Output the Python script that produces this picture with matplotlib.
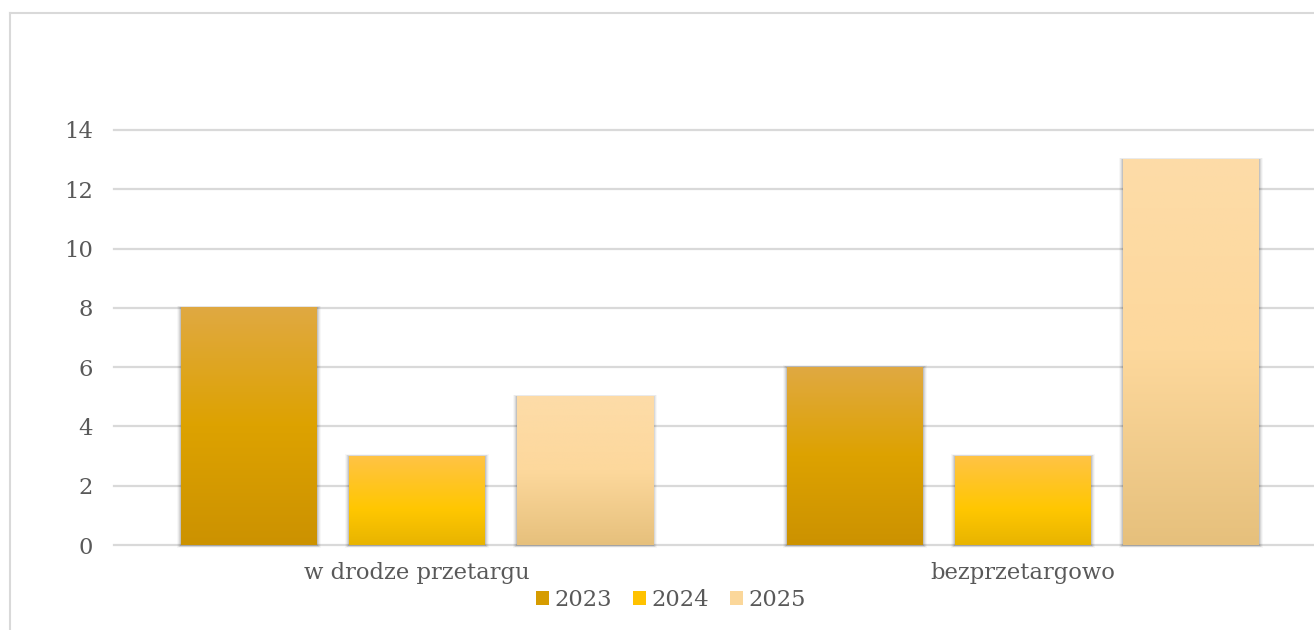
import numpy as np
import matplotlib
matplotlib.use("Agg")
import matplotlib.pyplot as plt
from matplotlib.patches import Patch, Rectangle
from matplotlib.colors import LinearSegmentedColormap
from matplotlib.lines import Line2D

categories = ["w drodze przetargu", "bezprzetargowo"]
series_names = ["2023", "2024", "2025"]
values_2023 = [8, 6]
values_2024 = [3, 3]
values_2025 = [5, 13]
series_values = [values_2023, values_2024, values_2025]
yticks = [0, 2, 4, 6, 8, 10, 12, 14]

# gradient stops (bottom, middle, top) per series
grad_colors = [
    [(0.0, "#CC9200"), (0.5, "#DDA200"), (1.0, "#E0A942")],
    [(0.0, "#E8B400"), (0.4, "#FFC700"), (1.0, "#FFC345")],
    [(0.0, "#E6C07C"), (0.5, "#FDD89C"), (1.0, "#FDDCA8")],
]
legend_colors = ["#D69C00", "#FFC200", "#FBD79A"]
text_color = "#595959"
grid_color = "#D9D9D9"

plt.rcParams["font.family"] = ["DejaVu Serif"]

fig = plt.figure(figsize=(13.14, 6.30), dpi=100)
W, H = 1314, 630
ax = fig.add_axes([114 / W, 85 / H, (1326 - 114) / W, (545 - 130) / H])

n = len(series_names)
bar_w = 136 / 606
step = 168 / 606
x = np.arange(len(categories))
px_x = 2.0 / 1212      # one pixel in x data units
px_y = 14.0 / 415      # one pixel in y data units

grad = np.linspace(0, 1, 256).reshape(-1, 1)
for i, (name, vals) in enumerate(zip(series_names, series_values)):
    offs = x + (i - (n - 1) / 2) * step
    bars = ax.bar(offs, vals, width=bar_w, color="none", edgecolor="none", zorder=3)
    cmap = LinearSegmentedColormap.from_list(f"g{i}", grad_colors[i])
    for b in bars:
        bx, by, bw, bh = b.get_x(), b.get_y(), b.get_width(), b.get_height()
        # soft shadow
        for k, a in enumerate([0.10, 0.07, 0.05, 0.03]):
            d = k + 1
            sh = Rectangle((bx - d * px_x, by - (d + 1) * px_y * 0.6),
                           bw + 2 * d * px_x, bh + d * px_y * 0.5 + (d + 1) * px_y * 0.6,
                           facecolor="black", edgecolor="none", alpha=a, zorder=2,
                           clip_on=False)
            ax.add_patch(sh)
        ax.imshow(grad, cmap=cmap, origin="lower", aspect="auto",
                  extent=[bx, bx + bw, by, by + bh], zorder=3.5,
                  interpolation="bilinear")

ax.set_xlim(-0.5, 1.5)
ax.set_ylim(0, 14)
ax.set_yticks(yticks)
ax.set_xticks(x)
ax.set_xticklabels(categories)
ax.tick_params(axis="both", length=0, labelsize=16.3, colors=text_color)
ax.tick_params(axis="x", pad=12)
ax.tick_params(axis="y", pad=15)
ax.grid(axis="y", color=grid_color, linewidth=1.6, zorder=0)
for gl in ax.get_ygridlines():
    gl.set_clip_on(False)
ax.set_axisbelow(True)
for s in ax.spines.values():
    s.set_visible(False)
ax.set_facecolor("none")

# chart border
fig.add_artist(Line2D([10 / W, 10 / W], [0, (H - 13) / H], color=grid_color, lw=1.5))
fig.add_artist(Line2D([10 / W, 1.0], [(H - 13) / H, (H - 13) / H], color=grid_color, lw=1.5))

handles = [Patch(facecolor=c, edgecolor="none") for c in legend_colors]
fig.legend(handles, series_names, loc="center", bbox_to_anchor=(671 / W, 30 / H),
           ncol=3, frameon=False, fontsize=16.3, labelcolor=text_color,
           handlelength=0.58, handleheight=0.58, handletextpad=0.25,
           columnspacing=0.9, borderaxespad=0)

fig.savefig("out.png", dpi=100)
